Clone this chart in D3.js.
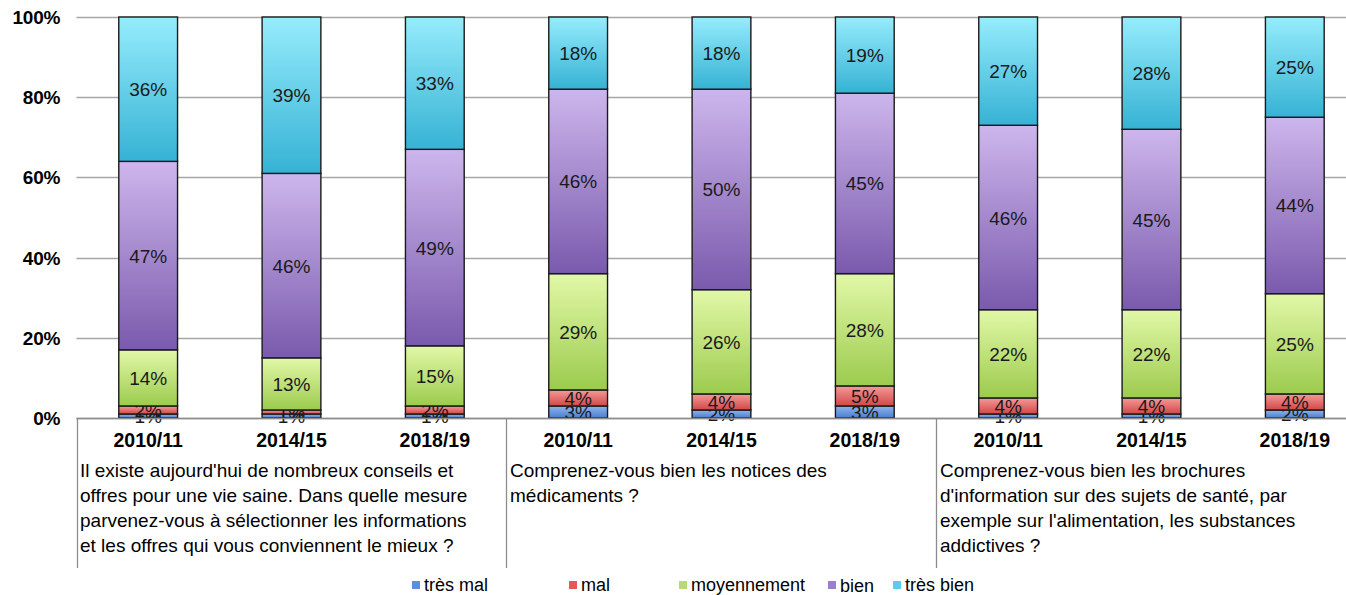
<!DOCTYPE html>
<meta charset="utf-8">
<script src="https://d3js.org/d3.v7.min.js"></script>
<style>
  body { margin: 0; background: #fff; }
  text { font-family: "Liberation Sans", Arial, sans-serif; }
</style>
<div id="chart"></div>
<script>

// data
var periods = ["2010/11", "2014/15", "2018/19"];
var questions = [
  ["Il existe aujourd'hui de nombreux conseils et",
   "offres pour une vie saine. Dans quelle mesure",
   "parvenez-vous à sélectionner les informations",
   "et les offres qui vous conviennent le mieux ?"],
  ["Comprenez-vous bien les notices des",
   "médicaments ?"],
  ["Comprenez-vous bien les brochures",
   "d'information sur des sujets de santé, par",
   "exemple sur l'alimentation, les substances",
   "addictives ?"]
];
var seriesNames = ["très mal", "mal", "moyennement", "bien", "très bien"];
// one entry per bar (question x period), values in %
var tresMal     = [1, 1, 1,  3, 2, 3,  1, 1, 2];
var mal         = [2, 1, 2,  4, 4, 5,  4, 4, 4];
var moyennement = [14, 13, 15, 29, 26, 28, 22, 22, 25];
var bien        = [47, 46, 49, 46, 50, 45, 46, 45, 44];
var tresBien    = [36, 39, 33, 18, 18, 19, 27, 28, 25];
var yTicks = [0, 0.2, 0.4, 0.6, 0.8, 1];

var width = 1346, height = 595;
var margin = {top: 17, left: 76.5, bottom: 418};

var svg = d3.select("#chart").append("svg")
  .attr("width", width)
  .attr("height", height);

// gradients for each series (top light -> bottom dark)
var gradColors = [
  ["#8fb4ee", "#4a7fd0"],
  ["#f49a9a", "#d24848"],
  ["#e2f8a8", "#9ccb4e"],
  ["#cdb6ec", "#7a5aad"],
  ["#96ecfc", "#36b2d4"]
];
var legendColors = ["#5b8ee0", "#e05a5a", "#b5dc74", "#9c7fcc", "#5cccea"];
var defs = svg.append("defs");
gradColors.forEach(function(c, i) {
  var g = defs.append("linearGradient")
    .attr("id", "grad" + i)
    .attr("x1", 0).attr("y1", 0).attr("x2", 0).attr("y2", 1);
  g.append("stop").attr("offset", "0%").attr("stop-color", c[0]);
  g.append("stop").attr("offset", "100%").attr("stop-color", c[1]);
});

var rows = tresMal.map(function(d, i) {
  return {
    id: i,
    period: periods[i % 3],
    "très mal": tresMal[i] / 100,
    "mal": mal[i] / 100,
    "moyennement": moyennement[i] / 100,
    "bien": bien[i] / 100,
    "très bien": tresBien[i] / 100
  };
});

var step = 143.33;
var x = d3.scaleBand()
  .domain(rows.map(function(d) { return d.id; }))
  .range([margin.left, margin.left + step * rows.length])
  .paddingInner(0.59)
  .paddingOuter(0.295);

var y = d3.scaleLinear()
  .domain([0, 1])
  .range([margin.bottom, margin.top]);

// gridlines
svg.append("g")
  .selectAll("line")
  .data(yTicks)
  .enter().append("line")
    .attr("x1", margin.left)
    .attr("x2", width)
    .attr("y1", function(d) { return Math.round(y(d)) + 0.5; })
    .attr("y2", function(d) { return Math.round(y(d)) + 0.5; })
    .attr("stroke", "#a6a6a6")
    .attr("stroke-width", 1.3);

// y labels
svg.append("g")
  .selectAll("text")
  .data(yTicks)
  .enter().append("text")
    .attr("x", 60)
    .attr("y", function(d) { return y(d) + 7; })
    .attr("text-anchor", "end")
    .attr("font-size", "19px")
    .attr("font-weight", "bold")
    .attr("letter-spacing", "-0.3px")
    .attr("fill", "#000")
    .text(function(d) { return Math.round(d * 100) + "%"; });

// stacked bars
var stack = d3.stack().keys(seriesNames);
var layers = stack(rows);

var layer = svg.append("g")
  .selectAll("g")
  .data(layers)
  .enter().append("g")
    .attr("fill", function(d, i) { return "url(#grad" + i + ")"; });

layer.selectAll("rect")
  .data(function(d) { return d; })
  .enter().append("rect")
    .attr("x", function(d) { return x(d.data.id); })
    .attr("y", function(d) { return y(d[1]); })
    .attr("width", x.bandwidth())
    .attr("height", function(d) { return y(d[0]) - y(d[1]); })
    .attr("stroke", "#1a1a1a")
    .attr("stroke-width", 1.4);

// value labels
layer.selectAll("text")
  .data(function(d) { return d; })
  .enter().append("text")
    .attr("x", function(d) { return x(d.data.id) + x.bandwidth() / 2; })
    .attr("y", function(d) { return (y(d[0]) + y(d[1])) / 2 + 7; })
    .attr("text-anchor", "middle")
    .attr("font-size", "19px")
    .attr("fill", "#1a1a1a")
    .text(function(d) { return Math.round((d[1] - d[0]) * 100) + "%"; });

// category axis: lines
var axisG = svg.append("g").attr("stroke", "#8c8c8c").attr("stroke-width", 1.3);
axisG.append("line")
  .attr("x1", margin.left).attr("x2", width)
  .attr("y1", margin.bottom + 0.5).attr("y2", margin.bottom + 0.5);
[0, 3, 6].forEach(function(i) {
  var xx = Math.round(margin.left + step * i) + 0.5;
  axisG.append("line")
    .attr("x1", xx).attr("x2", xx)
    .attr("y1", margin.bottom).attr("y2", 568);
});

// period labels
svg.append("g")
  .selectAll("text")
  .data(rows)
  .enter().append("text")
    .attr("x", function(d) { return x(d.id) + x.bandwidth() / 2; })
    .attr("y", 447)
    .attr("text-anchor", "middle")
    .attr("font-size", "19.5px")
    .attr("font-weight", "bold")
    .attr("fill", "#000")
    .text(function(d) { return d.period; });

// question labels
questions.forEach(function(lines, qi) {
  var qx = margin.left + step * qi * 3 + 3.5;
  var t = svg.append("text")
    .attr("x", qx)
    .attr("y", 477)
    .attr("font-size", "19px")
    .attr("fill", "#000");
  lines.forEach(function(l, li) {
    t.append("tspan")
      .attr("x", qx)
      .attr("dy", li === 0 ? 0 : 25)
      .text(l);
  });
});

// legend
var legendX = [412, 569, 679, 828, 893];
var legend = svg.append("g")
  .selectAll("g")
  .data(seriesNames)
  .enter().append("g")
    .attr("transform", function(d, i) { return "translate(" + legendX[i] + ",581)"; });
legend.append("rect")
  .attr("width", 8)
  .attr("height", 8)
  .attr("fill", function(d, i) { return legendColors[i]; });
legend.append("text")
  .attr("x", 12)
  .attr("y", function(d, i) { return i === 3 ? 11 : 9.5; })
  .attr("font-size", "18px")
  .attr("fill", "#000")
  .text(function(d) { return d; });

</script>
